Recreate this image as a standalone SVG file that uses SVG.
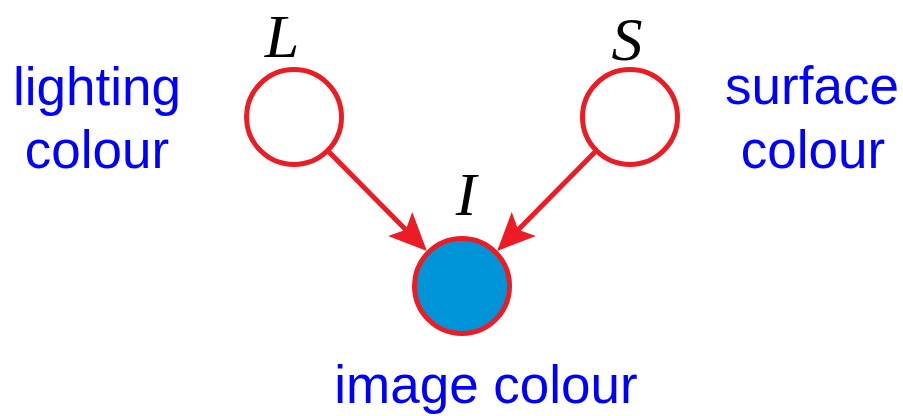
<svg xmlns="http://www.w3.org/2000/svg" width="903" height="416" viewBox="0 0 903 416">
  <style>
    .node { stroke: #ED1C24; stroke-width: 5; }
    .empty { fill: #FFFFFF; }
    .obs { fill: #0095D8; }
    .edge { stroke: #ED1C24; stroke-width: 5; fill: none; }
    .sym { font-family: "Liberation Serif", "Times New Roman", serif; font-style: italic; font-size: 62px; fill: #000000; text-anchor: middle; }
    .desc { font-family: "Liberation Sans", Arial, sans-serif; font-size: 53px; fill: #0000FF; text-anchor: middle; }
  </style>
  <defs>
    <marker id="head" markerUnits="userSpaceOnUse" viewBox="-10 -20 45 40" markerWidth="45" markerHeight="40" refX="0" refY="0" orient="auto" overflow="visible">
      <path d="M30 0 L-8 -17 L0 0 L-8 17 Z" fill="#ED1C24"/>
    </marker>
  </defs>

  <rect width="903" height="416" fill="#FFFFFF"/>

  <g id="connectors">
    <line class="edge" x1="329" y1="152" x2="405.8" y2="229.7" marker-end="url(#head)"/>
    <line class="edge" x1="595" y1="152" x2="518.2" y2="229.7" marker-end="url(#head)"/>
  </g>

  <g id="node-L">
    <circle class="node empty" cx="294" cy="117" r="47.5"/>
    <text class="sym" x="282" y="57">L</text>
    <text class="desc" x="97" y="105">lighting</text>
    <text class="desc" x="97" y="168">colour</text>
  </g>

  <g id="node-S">
    <circle class="node empty" cx="630" cy="117" r="47.5"/>
    <text class="sym" x="627" y="60">S</text>
    <text class="desc" x="812" y="104">surface</text>
    <text class="desc" x="813" y="168">colour</text>
  </g>

  <g id="node-I">
    <circle class="node obs" cx="462" cy="286" r="47.5"/>
    <text class="sym" x="466" y="215">I</text>
    <text class="desc" x="486" y="403">image colour</text>
  </g>
</svg>
